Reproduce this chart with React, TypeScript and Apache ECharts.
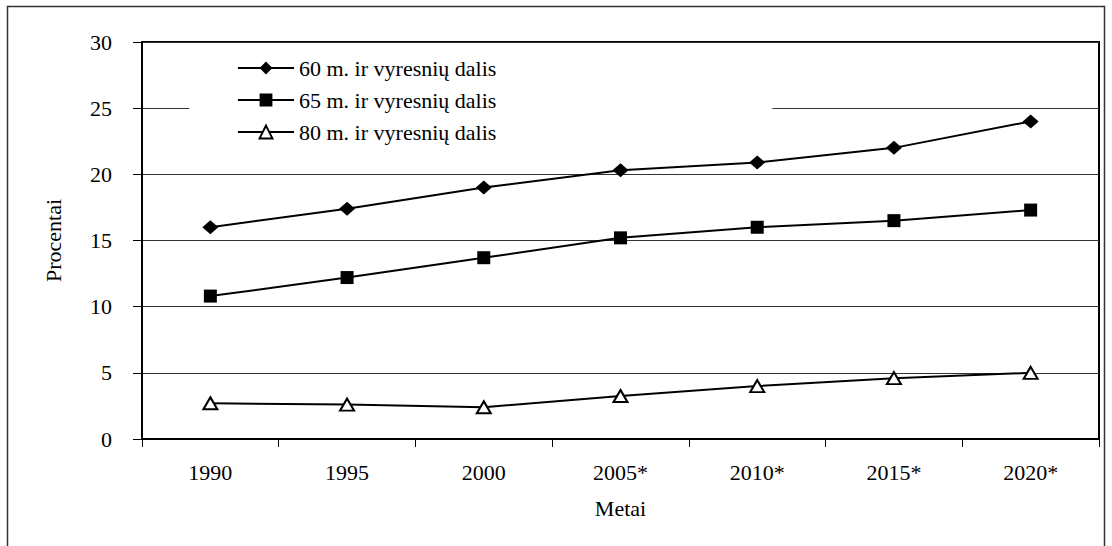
import React, { useEffect, useRef } from "react";
import * as echarts from "echarts";

const categories = ["1990", "1995", "2000", "2005*", "2010*", "2015*", "2020*"];
const share60 = [16.0, 17.4, 19.0, 20.3, 20.9, 22.0, 24.0];
const share65 = [10.8, 12.2, 13.7, 15.2, 16.0, 16.5, 17.3];
const share80 = [2.7, 2.6, 2.4, 3.25, 4.0, 4.6, 5.0];
const seriesNames = [
  "60 m. ir vyresnių dalis",
  "65 m. ir vyresnių dalis",
  "80 m. ir vyresnių dalis",
];
const yTicks = [0, 5, 10, 15, 20, 25, 30];

const FONT = "Liberation Serif";

export default function App() {
  const ref = useRef<HTMLDivElement>(null);
  useEffect(() => {
    if (!ref.current) return;
    const chart = echarts.init(ref.current, undefined, { renderer: "svg" });
    chart.setOption({
      animation: false,
      backgroundColor: "#fff",
      textStyle: { fontFamily: FONT, color: "#000", fontSize: 22 },
      graphic: [
        {
          type: "rect",
          shape: { x: 7.5, y: 6.5, width: 1097, height: 600 },
          style: { fill: "none", stroke: "#333", lineWidth: 1.5 },
          silent: true,
        },
      ],
      grid: {
        left: 142,
        right: 13,
        top: 42,
        bottom: 107,
        show: true,
        borderColor: "#000",
        borderWidth: 2,
        backgroundColor: "transparent",
      },
      legend: {
        orient: "vertical",
        left: 189,
        top: 47,
        padding: [10, 276, 12, 48],
        backgroundColor: "#fff",
        itemWidth: 56,
        itemHeight: 16,
        itemGap: 10,
        data: seriesNames,
        textStyle: {
          fontFamily: FONT,
          fontSize: 22,
          color: "#000",
          lineHeight: 22,
        },
      },
      xAxis: {
        type: "category",
        data: categories,
        boundaryGap: true,
        name: "Metai",
        nameLocation: "middle",
        nameGap: 58,
        nameTextStyle: { fontFamily: FONT, fontSize: 22, color: "#000" },
        axisLine: { lineStyle: { color: "#000", width: 2 } },
        axisTick: { show: true, length: 8, lineStyle: { color: "#000", width: 1 } },
        axisLabel: { fontFamily: FONT, fontSize: 22, color: "#000", margin: 22 },
        splitLine: { show: false },
      },
      yAxis: {
        type: "value",
        min: yTicks[0],
        max: yTicks[yTicks.length - 1],
        interval: 5,
        name: "Procentai",
        nameLocation: "middle",
        nameGap: 78,
        nameTextStyle: { fontFamily: FONT, fontSize: 22, color: "#000" },
        axisLine: { show: true, lineStyle: { color: "#000", width: 2 } },
        axisTick: { show: true, length: 9, lineStyle: { color: "#000", width: 1 } },
        axisLabel: { fontFamily: FONT, fontSize: 22, color: "#000", margin: 30 },
        splitLine: { show: true, lineStyle: { color: "#333", width: 1 } },
      },
      series: [
        {
          name: seriesNames[0],
          type: "line",
          data: share60,
          symbol: "diamond",
          symbolSize: [16, 14],
          lineStyle: { color: "#000", width: 2 },
          itemStyle: { color: "#000" },
        },
        {
          name: seriesNames[1],
          type: "line",
          data: share65,
          symbol: "rect",
          symbolSize: 13,
          lineStyle: { color: "#000", width: 2 },
          itemStyle: { color: "#000" },
        },
        {
          name: seriesNames[2],
          type: "line",
          data: share80,
          symbol: "triangle",
          symbolSize: [14, 12],
          lineStyle: { color: "#000", width: 2 },
          itemStyle: { color: "#fff", borderColor: "#000", borderWidth: 2 },
        },
      ],
    });
    return () => chart.dispose();
  }, []);
  return (
    <div
      ref={ref}
      style={{ position: "absolute", left: 0, top: 0, width: 1112, height: 546 }}
    />
  );
}
